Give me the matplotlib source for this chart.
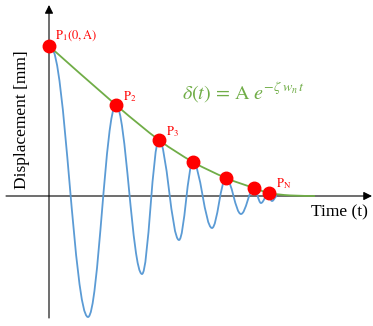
import numpy as np
import matplotlib
matplotlib.use("Agg")
import matplotlib.pyplot as plt
from matplotlib.path import Path
from matplotlib.patches import PathPatch

plt.rcParams['mathtext.fontset'] = 'stix'
plt.rcParams['font.family'] = ['Liberation Serif', 'DejaVu Serif']

# blue response: successive extrema (time, displacement)
resp_t = [2, 39, 67, 93, 110, 130, 144, 163, 177, 192, 205, 212, 219, 223, 228]
resp_d = [148, -121, 91, -78, 56, -44, 34, -32, 18, -18, 8, -7, 2, -5, 0]

# peaks P1..PN
peak_t = [0, 67, 110, 144, 177, 205, 220]
peak_d = [150, 91, 56, 34, 18, 8, 3]

# green envelope
env_t = [0, 67, 110, 144, 177, 205, 220, 241, 266]
env_d = [150, 91, 56, 34, 18, 8, 3, 0.6, 0]

BLUE = '#5B9BD5'
GREEN = '#70AD47'
RED = '#FF0000'


def flat_path(xs, ys, k=0.37):
    # cubic segments with horizontal tangents at each extremum
    verts = [(xs[0], ys[0])]
    codes = [Path.MOVETO]
    for i in range(len(xs) - 1):
        dx = xs[i + 1] - xs[i]
        verts += [(xs[i] + k * dx, ys[i]), (xs[i + 1] - k * dx, ys[i + 1]), (xs[i + 1], ys[i + 1])]
        codes += [Path.CURVE4] * 3
    return Path(verts, codes)


def smooth_path(xs, ys):
    # catmull-rom through points
    p = np.column_stack([xs, ys]).astype(float)
    p = np.vstack([p[0], p, p[-1]])
    verts = [tuple(p[1])]
    codes = [Path.MOVETO]
    for i in range(1, len(p) - 2):
        c1 = p[i] + (p[i + 1] - p[i - 1]) / 6
        c2 = p[i + 1] - (p[i + 2] - p[i]) / 6
        verts += [tuple(c1), tuple(c2), tuple(p[i + 1])]
        codes += [Path.CURVE4] * 3
    return Path(verts, codes)


fig = plt.figure(figsize=(3.73, 3.26), dpi=100)
ax = fig.add_axes([0, 0, 1, 1])
ax.set_xlim(-49, 324)
ax.set_ylim(-130, 196)
ax.axis('off')

# axes with arrows
arr = dict(arrowstyle='-|>,head_length=0.5,head_width=0.25', color='black', lw=0.8,
           shrinkA=0, shrinkB=0)
ax.annotate('', xy=(323, 0), xytext=(-43, 0), arrowprops=arr)
ax.annotate('', xy=(0, 191), xytext=(0, -122), arrowprops=arr)

ax.add_patch(PathPatch(flat_path(resp_t, resp_d), fc='none', ec=BLUE, lw=1.3, zorder=3))
ax.add_patch(PathPatch(smooth_path(env_t, env_d), fc='none', ec=GREEN, lw=1.3, zorder=4))
ax.plot(peak_t, peak_d, 'o', color=RED, ms=9, zorder=5)

ax.text(6, 160, r'$\mathrm{P_1(0,A)}$', color=RED, fontsize=9, va='center', ha='left')
ax.text(74, 99, r'$\mathrm{P_2}$', color=RED, fontsize=9, va='center', ha='left')
ax.text(117, 64, r'$\mathrm{P_3}$', color=RED, fontsize=9, va='center', ha='left')
ax.text(227, 12, r'$\mathrm{P_N}$', color=RED, fontsize=9, va='center', ha='left')

ax.text(133, 104, r'$\delta(t)\,=\,\mathrm{A}\;e^{-\zeta\;w_n\,t}$', color=GREEN,
        fontsize=14.5, va='center', ha='left')

ax.text(-27, 76, 'Displacement [mm]', rotation=90, fontsize=12.5, va='center', ha='center')
ax.text(290, -16, 'Time (t)', fontsize=12.5, va='center', ha='center')

plt.savefig('out.png', dpi=100)
plt.close(fig)
